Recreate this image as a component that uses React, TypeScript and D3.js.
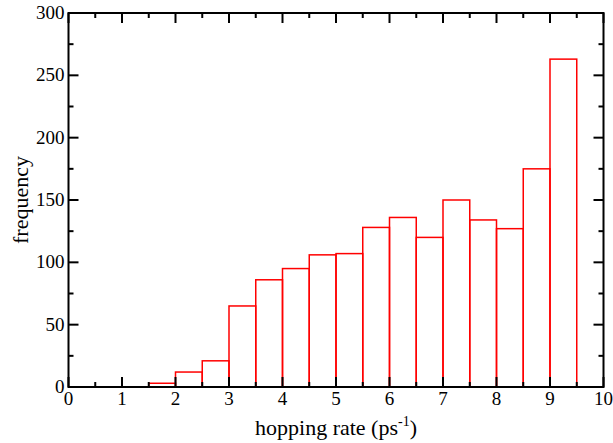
import React from "react";
import * as d3 from "d3";

const binStarts = [0, 0.5, 1, 1.5, 2, 2.5, 3, 3.5, 4, 4.5, 5, 5.5, 6, 6.5, 7, 7.5, 8, 8.5, 9, 9.5];
const frequencies = [0, 0, 0, 3, 12, 21, 65, 86, 95, 106, 107, 128, 136, 120, 150, 134, 127, 175, 263, 0];
const binWidth = 0.5;
const xTicks = [0, 1, 2, 3, 4, 5, 6, 7, 8, 9, 10];
const yTicks = [0, 50, 100, 150, 200, 250, 300];

export default function App() {
  const W = 613, H = 443;
  const left = 68.5, right = 603.5, top = 13, bottom = 387;
  const x = d3.scaleLinear().domain([0, 10]).range([left, right]);
  const y = d3.scaleLinear().domain([0, 300]).range([bottom, top]);
  const xMinor = d3.range(0.5, 10, 1);
  const yMinor = d3.range(25, 300, 50);
  const font = "'Liberation Serif', 'Times New Roman', serif";
  const major = 10, minor = 5;
  return (
    <svg width={W} height={H} style={{ position: "absolute", left: 0, top: 0 }}>
      <rect width={W} height={H} fill="white" />
      {binStarts.map((b, i) => (
        <rect key={i} x={x(b)} y={y(frequencies[i])} width={x(b + binWidth) - x(b)}
          height={y(0) - y(frequencies[i])} fill="none" stroke="#ff0000" strokeWidth={1.5} />
      ))}
      <g stroke="black" strokeWidth={2}>
        {xTicks.map((t) => (
          <g key={"xt" + t}>
            <line x1={x(t)} x2={x(t)} y1={bottom} y2={bottom - major} />
            <line x1={x(t)} x2={x(t)} y1={top} y2={top + major} />
          </g>
        ))}
        {xMinor.map((t) => (
          <g key={"xm" + t}>
            <line x1={x(t)} x2={x(t)} y1={bottom} y2={bottom - minor} />
            <line x1={x(t)} x2={x(t)} y1={top} y2={top + minor} />
          </g>
        ))}
        {yTicks.map((t) => (
          <g key={"yt" + t}>
            <line x1={left} x2={left + major} y1={y(t)} y2={y(t)} />
            <line x1={right} x2={right - major} y1={y(t)} y2={y(t)} />
          </g>
        ))}
        {yMinor.map((t) => (
          <g key={"ym" + t}>
            <line x1={left} x2={left + minor} y1={y(t)} y2={y(t)} />
            <line x1={right} x2={right - minor} y1={y(t)} y2={y(t)} />
          </g>
        ))}
        <rect x={left} y={top} width={right - left} height={bottom - top} fill="none" />
      </g>
      <g fontFamily={font} fontSize={19} fill="black">
        {xTicks.map((t) => (
          <text key={"xl" + t} x={x(t)} y={bottom + 18} textAnchor="middle">{t}</text>
        ))}
        {yTicks.map((t) => (
          <text key={"yl" + t} x={left - 4} y={y(t) + 6} textAnchor="end">{t}</text>
        ))}
      </g>
      <text x={(left + right) / 2} y={435} textAnchor="middle" fontFamily={font} fontSize={22}>
        hopping rate (ps<tspan fontSize={14} dy={-9}>-1</tspan><tspan dy={9}>)</tspan>
      </text>
      <text transform={`translate(28,${(top + bottom) / 2}) rotate(-90)`} textAnchor="middle"
        fontFamily={font} fontSize={22}>frequency</text>
    </svg>
  );
}
